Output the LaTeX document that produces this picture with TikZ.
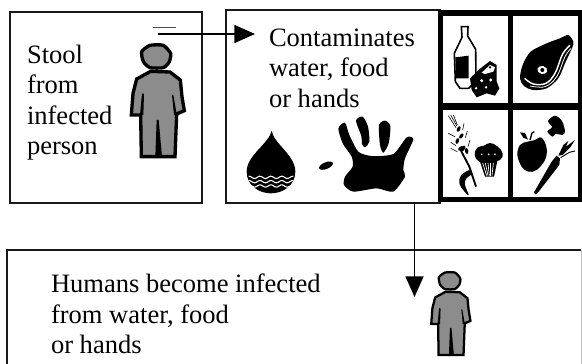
\documentclass[tikz,border=0pt]{standalone}
\usepackage{fontspec}
\setmainfont{Liberation Serif}
\usetikzlibrary{arrows.meta}
\definecolor{figgray}{HTML}{8C8C8C}
\tikzset{
  x=0.75pt,y=-0.75pt,
  boxline/.style={line width=1.1pt,draw=black!90},
  areabox/.style={inner sep=0pt,outer sep=0pt},
  label/.style={inner sep=0pt,outer sep=0pt,anchor=north west,align=left,font=\fontsize{19.9pt}{22.8pt}\selectfont},
  conn/.style={line width=1.1pt,-{Triangle[length=15.5pt,width=13.5pt]}},
  zoomed/.style={scale=0.33333},
  ink/.style={fill=black,draw=none},
  whiteink/.style={fill=white,draw=none},
  personfig/.pic={
    \path[fill=figgray,draw=black,line width=\plw,line join=round]
      plot[smooth cycle,tension=.35] coordinates {(425,155) (450,136) (490,136) (512,160) (508,185) (490,203) (450,203) (430,185)};
    \path[fill=figgray,draw=black,line width=\plw,line join=miter]
      (452,214)--(510,216)--(541,240)--(546,290)--(553,332)--(530,342)--(525,470)--(424,470)--(422,345)--(394,345)--(399,280)--(410,237)--cycle;
    \path[fill=black] (426,280)--(432,282)--(430,345)--(420,345)--cycle;
    \path[fill=black] (516,285)--(520,285)--(530,342)--(522,345)--cycle;
    \path[fill=black] (470,360)--(476,360)--(486,470)--(466,470)--cycle;
  }
}
\begin{document}
\begin{tikzpicture}
\useasboundingbox (0,0) rectangle (582,364);
\fill[white] (0,0) rectangle (582,364);

% boxes
\node[areabox,draw,boxline,minimum width=144pt,minimum height=143.25pt] (stoolbox) at (106,107.5) {};
\node[areabox,draw,boxline,minimum width=160.5pt,minimum height=144.75pt] (contambox) at (333,106.5) {};
\node[areabox,minimum width=430.5pt,minimum height=85.5pt] (humanbox) at (294,307) {};
\draw[boxline] (humanbox.south west) -- (humanbox.north west) -- (humanbox.north east);
\draw[line width=.5pt,black!25] (humanbox.north east) -- (humanbox.south east);

% food panel
\node[areabox,fill=black,minimum width=108pt,minimum height=144pt] (panel) at (510,106) {};
\fill[white] (443,16) rectangle (508,103);
\fill[white] (513,16) rectangle (578,103);
\fill[white] (443,110) rectangle (508,197);
\fill[white] (513,110) rectangle (578,197);

% texts
\node[label] (stooltext) at (27,45) {Stool\\from\\infected\\person};
\node[label] (contamtext) at (269,29) {Contaminates\\water, food\\or hands};
\node[label] (humantext) at (51,274) {Humans become infected\\from water, food\\or hands};

% persons
\def\plw{2.5pt}
\pic[shift={(0,0)},scale=0.33333] (bigperson) {personfig};
\def\plw{1.7pt}
\pic[shift={(334,239)},scale=0.2467] (smallperson) {personfig};

% connectors
\draw[line width=.5pt,black!70] (153,27) -- (176,27);
\coordinate (hstart) at (158,34);
\coordinate (hend) at (255,34);
\draw[conn] (hstart) -- (hend);
\coordinate (vstart) at (414.5,203);
\coordinate (vend) at (414.5,297);
\draw[conn] (vstart) -- (vend);

% drop and hand
\begin{scope}[shift={(230,0)},zoomed]
  \path[ink] (125,392) .. controls (130,430) and (196,465) .. (196,515)
     .. controls (196,555) and (160,580) .. (123,580)
     .. controls (85,580) and (50,555) .. (50,515)
     .. controls (50,465) and (118,430) .. (125,392) -- cycle;
  \foreach \yy in {532,545,558}
    \draw[white,line width=.8pt] plot[smooth,domain=56:190,samples=30] (\x,{\yy+3.5*sin(\x*11)});
  % hand
  \path[ink] plot[smooth cycle,tension=.45] coordinates {(378,362) (398,350) (414,380) (418,425) (405,442) (396,432) (394,408)};
  \path[ink] plot[smooth cycle,tension=.45] coordinates {(447,375) (465,362) (481,378) (476,430) (460,458) (450,435)};
  \path[ink] plot[smooth cycle,tension=.4] coordinates {(325,385) (345,368) (358,405) (385,455) (425,468) (490,462) (530,412) (550,418) (525,475) (520,510) (525,530) (490,575) (440,565) (370,575) (342,555) (345,530) (368,500) (365,470) (338,430)};
  \path[ink,rotate around={22:(288,497)}] (288,497) ellipse (22 and 10);
\end{scope}

% bottle and cheese
\begin{scope}[shift={(440,10)},zoomed]
  \draw[line width=1.2pt,fill=white] (64,50) -- (84,50) -- (83,78) -- (107,118) -- (108,212) -- (86,235) -- (60,235) -- (46,215) -- (43,130) -- (66,82) -- cycle;
  \path[ink] (46,142) -- (86,137) -- (86,205) -- (48,205) -- cycle;
  \path[ink] (90,205) -- (115,180) -- (150,153) -- (170,165) -- (170,215) -- (178,235) -- (165,257) -- (140,250) -- (110,262) -- (95,240) -- cycle;
  \path[whiteink] (125,188) -- (150,165) -- (165,172) -- (160,185) -- (135,192) -- cycle;
  \fill[black] (150,172) circle (4);
  \fill[white] (125,212) circle (5) (152,210) circle (5) (108,235) circle (4) (138,232) circle (4);
\end{scope}

% meat
\begin{scope}[shift={(510,10)},zoomed]
  \path[ink] plot[smooth cycle,tension=.5] coordinates {(30,205) (38,165) (62,125) (110,100) (150,85) (175,75) (190,95) (187,112) (165,160) (145,205) (110,235) (70,240) (42,228)};
  \draw[white,line width=1.1pt] plot[smooth,tension=.6] coordinates {(44,205) (70,222) (108,220) (135,190) (158,132) (180,106)};
  \draw[white,line width=.6pt] plot[smooth,tension=.6] coordinates {(60,228) (105,230) (140,200) (165,140) (183,115)};
  \fill[white,rotate around={-15:(97,180)}] (97,180) ellipse (15 and 12);
  \fill[black] (97,180) circle (6);
\end{scope}

% wheat and muffin
\begin{scope}[shift={(440,105)},zoomed]
  \draw[line width=1.4pt] (62,135) -- (88,185) -- (108,245);
  \path[ink] plot[smooth,tension=.7] coordinates {(88,195) (64,210) (58,235) (72,258) (86,270) (75,240) (78,222) (96,208)} -- cycle;
  \foreach \px/\py/\ang in {56/72/65,64/93/55,52/108/70,70/130/60,80/138/100,62/130/40}
    \path[ink,rotate around={\ang:(\px,\py)}] (\px,\py) ellipse (9 and 5);
  \foreach \ax/\ay/\bx/\by in {25/32/48/68,32/30/50/62,40/30/52/60,25/85/45/95,32/112/48/122,32/130/52/140,72/55/68/75,82/78/76/98,90/105/84/125}
    \draw[line width=.45pt] (\ax,\ay) -- (\bx,\by);
  \path[ink] plot[smooth cycle,tension=.7] coordinates {(104,150) (112,128) (132,122) (150,114) (172,124) (188,145) (180,165) (150,172) (118,170)};
  \fill[white] (125,148) circle (2.6) (146,148) circle (2.6) (165,148) circle (2.6);
  \path[ink] (120,170) -- (172,168) -- (162,215) -- (135,215) -- cycle;
  \foreach \sx/\ex in {128/140,136/144,144/148,152/152,160/156}
    \draw[white,line width=.5pt] (\sx,174) -- (\ex,212);
\end{scope}

% apple, mushroom, carrot
\begin{scope}[shift={(510,105)},zoomed]
  \path[ink] plot[smooth cycle,tension=.6] coordinates {(22,150) (30,120) (52,110) (72,106) (95,98) (110,130) (105,165) (80,195) (55,200) (35,185)};
  \path[ink] (30,82) -- (45,84) -- (54,104) -- (40,98) -- cycle;
  \draw[line width=1pt] (60,105) -- (66,84) -- (73,80);
  \path[ink] plot[smooth cycle,tension=.5] coordinates {(114,48) (135,32) (156,48) (165,80) (156,90) (138,86) (128,95) (112,80) (126,66)};
  \path[ink] (72,262) -- (125,170) -- (140,152) -- (150,160) -- (148,180) -- (82,265) -- (76,268) -- cycle;
  \path[ink] (145,152) -- (160,120) -- (175,108) -- (168,125) -- (195,105) -- (180,128) -- (158,150) -- cycle;
  \draw[line width=.7pt] (152,158) -- (178,142) -- (195,138);
\end{scope}
\end{tikzpicture}
\end{document}
